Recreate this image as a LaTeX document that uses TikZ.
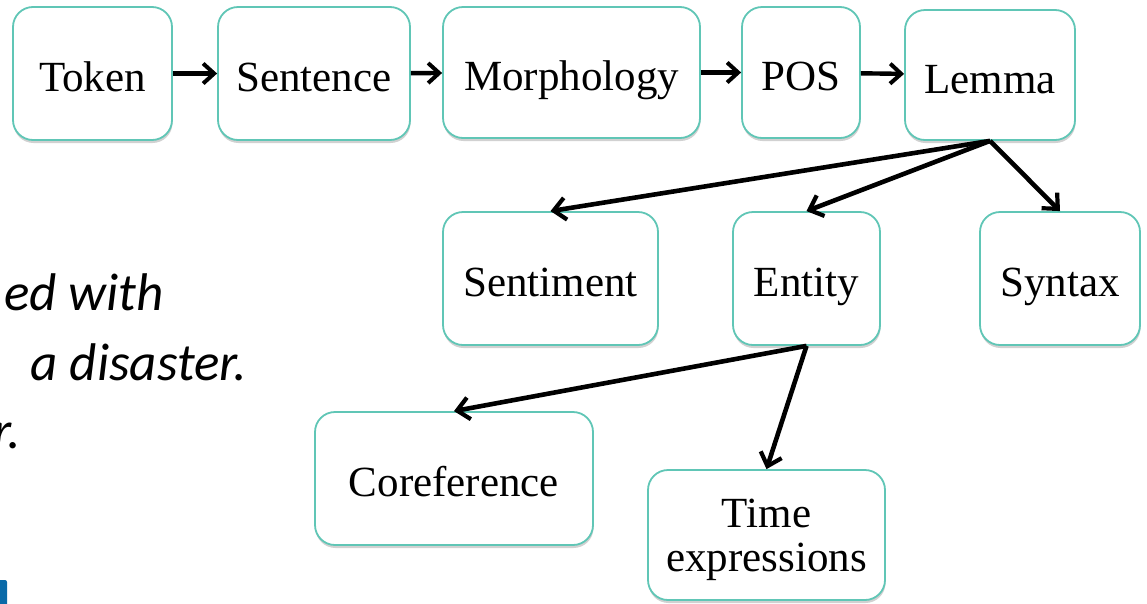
\documentclass[tikz,border=0pt]{standalone}
\usepackage{fontspec}
\setmainfont{Liberation Serif}
\usetikzlibrary{arrows.meta,shadows}
\newfontfamily\calfont{Carlito}
\definecolor{boxteal}{RGB}{96,198,182}
\definecolor{logoblue}{RGB}{10,106,168}
\tikzset{
  stagebox/.style={draw=boxteal, line width=1.8pt, rounded corners=20pt, fill=white,
    drop shadow={shadow xshift=0.5pt, shadow yshift=-3pt, opacity=0.3, fill=black!60},
    inner sep=0pt, align=center, font=\fontsize{43pt}{43pt}\selectfont,
    text height=40pt, text depth=4pt},
  flow/.style={line width=4.4pt, -{Straight Barb[length=11pt,width=20pt,line width=4pt]}},
  fan/.style={line width=4.6pt, -{Straight Barb[length=12pt,width=22pt,line width=4.2pt]}},
  sidetext/.style={font=\calfont\itshape\fontsize{53pt}{60pt}\selectfont, inner sep=0pt}
}
\begin{document}
\begin{tikzpicture}[x=1pt,y=-1pt]
\useasboundingbox (0,0) rectangle (1147,603);
\begin{scope}
\clip (0,0) rectangle (1147,603);
\node[sidetext, anchor=base east] (l1) at (164,310) {ed with};
\node[sidetext, anchor=base east] (l2) at (247,380) {a disaster.};
\node[sidetext, anchor=base east] (l3) at (21,448) {r.};
\fill[logoblue, rounded corners=2pt] (-5,580) rectangle (7,610);
\end{scope}

\node[stagebox, minimum width=159pt, minimum height=133pt] (tok) at (92.5,73.5) {Token};
\node[stagebox, minimum width=192pt, minimum height=133pt] (sen) at (314,73.5) {Sentence};
\node[stagebox, minimum width=257pt, minimum height=131pt] (mor) at (571.5,72.5) {Morphology};
\node[stagebox, minimum width=118pt, minimum height=131pt] (pos) at (801,72.5) {POS};
\node[stagebox, minimum width=170pt, minimum height=130pt] (lem) at (990,75) {Lemma};
\node[stagebox, minimum width=215pt, minimum height=133pt] (sent) at (550.5,278.5) {Sentiment};
\node[stagebox, minimum width=147pt, minimum height=133pt] (ent) at (806.5,278.5) {Entity};
\node[stagebox, minimum width=160pt, minimum height=133pt] (syn) at (1060,278.5) {Syntax};
\node[stagebox, minimum width=278pt, minimum height=133pt] (cor) at (454,478.5) {Coreference};
\node[stagebox, minimum width=237pt, minimum height=130pt, text height=, text depth=0pt,
      font=\fontsize{43pt}{44pt}\selectfont] (tim) at (766.5,535) {Time\\expressions};

\draw[flow] (tok) -- (sen);
\draw[flow] (sen) -- (mor);
\draw[flow] (mor) -- (pos);
\draw[flow] (pos) -- (lem);
\draw[fan] (lem.south) -- (sent.north);
\draw[fan] (lem.south) -- (ent.north);
\draw[fan] (lem.south) -- (syn.north);
\draw[fan] (ent.south) -- (cor.north);
\draw[fan] (ent.south) -- (tim.north);
\end{tikzpicture}
\end{document}
